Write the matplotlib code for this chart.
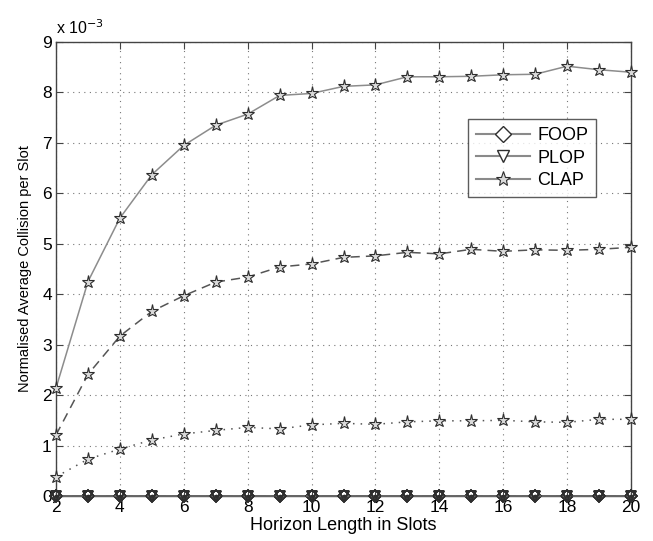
import matplotlib
matplotlib.use("Agg")
import matplotlib.pyplot as plt
from matplotlib.lines import Line2D

plt.rcParams['font.family'] = ['Liberation Sans', 'DejaVu Sans']

horizon = list(range(2, 21))
# values in units of 1e-3
clap_solid = [2.14, 4.25, 5.51, 6.37, 6.95, 7.35, 7.57, 7.94, 7.98, 8.12,
              8.15, 8.31, 8.31, 8.32, 8.35, 8.36, 8.52, 8.45, 8.40]
clap_dashed = [1.21, 2.41, 3.17, 3.66, 3.97, 4.24, 4.34, 4.54, 4.60, 4.73,
               4.76, 4.83, 4.80, 4.89, 4.85, 4.88, 4.87, 4.89, 4.93]
clap_dotted = [0.38, 0.73, 0.93, 1.11, 1.23, 1.30, 1.36, 1.33, 1.41, 1.44,
               1.42, 1.47, 1.49, 1.49, 1.50, 1.47, 1.46, 1.52, 1.52]
foop = [0.0] * 19
plop = [0.0] * 19

fig = plt.figure(figsize=(6.53, 5.41), dpi=100)
ax = fig.add_axes([0.0858, 0.0832, 0.8805, 0.8392])

line_col = '#8a8a8a'
edge_col = '#2e2e2e'
face_col = '#dadada'

styles = ['-', (0, (6, 4)), (0, (1, 4))]
for ls in styles:
    ax.plot(horizon, foop, linestyle=ls, color='#666666', linewidth=1.2, marker='D', markersize=6.5,
            markerfacecolor='none', markeredgecolor=edge_col, markeredgewidth=1.1,
            zorder=3, clip_on=False)
    ax.plot(horizon, plop, linestyle=ls, color='#666666', linewidth=1.2, marker='v', markersize=7.5,
            markerfacecolor='none', markeredgecolor=edge_col, markeredgewidth=1.1,
            zorder=3, clip_on=False)
ax.scatter(horizon, foop, s=3, color=edge_col, zorder=4, clip_on=False)

for ls, vals, lc in zip(styles, [clap_solid, clap_dashed, clap_dotted],
                        ['#8c8c8c', '#555555', '#555555']):
    ax.plot(horizon, vals, linestyle=ls, color=lc, linewidth=1.1, marker='*', markersize=9.5,
            markerfacecolor=face_col, markeredgecolor=edge_col, markeredgewidth=0.8,
            zorder=3, clip_on=False)

ax.set_xlim(2, 20)
ax.set_ylim(0, 9)
ax.set_xticks(range(2, 21, 2))
ax.set_yticks(range(0, 10))
ax.tick_params(direction='in', labelsize=12.5, top=True, right=True, length=5,
               color='#444444', pad=3)
ax.grid(True, linestyle=(0, (1, 4)), color='#777777', linewidth=0.8)
for sp in ax.spines.values():
    sp.set_color('#444444')
    sp.set_linewidth(1.0)
ax.set_xlabel('Horizon Length in Slots', fontsize=13, labelpad=1)
ax.set_ylabel('Normalised Average Collision per Slot', fontsize=10.5, labelpad=7)
ax.text(0.0, 1.01, r'x 10$^{-3}$', transform=ax.transAxes, fontsize=11.5,
        ha='left', va='bottom')

handles = [
    Line2D([], [], color=line_col, marker='D', markersize=8, markerfacecolor='white',
           markeredgecolor=edge_col, markeredgewidth=1.0),
    Line2D([], [], color=line_col, marker='v', markersize=9, markerfacecolor='white',
           markeredgecolor=edge_col, markeredgewidth=1.0),
    Line2D([], [], color=line_col, marker='*', markersize=11, markerfacecolor=face_col,
           markeredgecolor=edge_col, markeredgewidth=0.8),
]
leg = ax.legend(handles, ['FOOP', 'PLOP', 'CLAP'], loc='upper left',
                bbox_to_anchor=(0.716, 0.83), fontsize=13, frameon=True, fancybox=False,
                edgecolor='#333333', handlelength=3.0, borderpad=0.45, labelspacing=0.3,
                handletextpad=0.4, borderaxespad=0.0)
leg.get_frame().set_linewidth(1.0)

fig.savefig('out.png', dpi=100)
